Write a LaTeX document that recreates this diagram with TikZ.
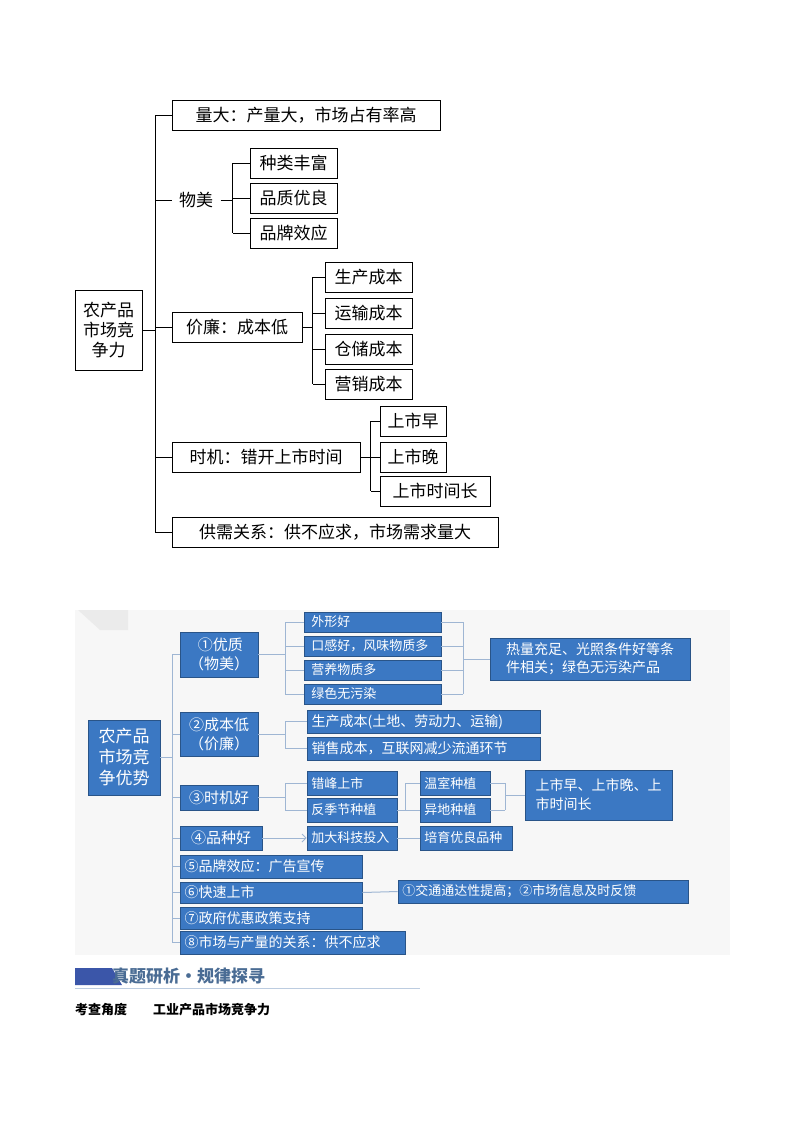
\documentclass[tikz,border=0pt]{standalone}
\usepackage{fontspec}
\setmainfont{Noto Sans CJK SC}
\usetikzlibrary{arrows.meta}
\definecolor{bb}{HTML}{3B78C3}
\definecolor{bl}{HTML}{9FB6D3}
\definecolor{hd}{HTML}{4A6C94}
\newcommand{\bx}[7]{\node[#7, minimum width={#4-#2}, minimum height={#5-#3}] (#1) at ({(#2+#4)/2},{(#3+#5)/2}) {#6};}
\tikzset{
 tb/.style={draw=black, line width=1pt, inner sep=0pt, align=center, font=\fontsize{17}{20}\selectfont},
 bt/.style={fill=bb, draw=bb!70!black, line width=0.6pt, text=white, inner sep=0pt, align=left, font=\fontsize{13}{16}\selectfont},
 tl/.style={line width=1pt, black},
 bln/.style={line width=1pt, bl},
}
\begin{document}
\begin{tikzpicture}[x=1pt,y=-1pt]
\useasboundingbox[fill=white] (0,0) rectangle (800,1132);
% ---------- top diagram ----------
\bx{r}{75}{290}{142}{370}{农产品\\市场竞\\争力}{tb}
\bx{a}{172}{100}{440}{130}{量大：产量大，市场占有率高}{tb}
\bx{b}{172}{185}{220}{215}{物美}{tb, draw=none}
\bx{c}{172}{312}{302}{342}{价廉：成本低}{tb}
\bx{d}{172}{442}{360}{472}{时机：错开上市时间}{tb}
\bx{e}{172}{517}{498}{547}{供需关系：供不应求，市场需求量大}{tb}
\bx{b1}{250}{148}{337}{178}{种类丰富}{tb}
\bx{b2}{250}{183}{337}{213}{品质优良}{tb}
\bx{b3}{250}{218}{337}{248}{品牌效应}{tb}
\bx{c1}{325}{262}{412}{292}{生产成本}{tb}
\bx{c2}{325}{298}{412}{328}{运输成本}{tb}
\bx{c3}{325}{334}{412}{364}{仓储成本}{tb}
\bx{c4}{325}{369}{412}{399}{营销成本}{tb}
\bx{d1}{380}{406}{446}{436}{上市早}{tb}
\bx{d2}{380}{442}{446}{472}{上市晚}{tb}
\bx{d3}{380}{476}{490}{506}{上市时间长}{tb}
\coordinate (tt) at (155,115);
\coordinate (tb) at (155,532);
\draw[tl] (tt) -- (tb);
\draw[tl] (r.east) -- (r.east -| tt);
\foreach \n in {a,b,c,d,e} \draw[tl] (\n.west) -- (\n.west -| tt);
\draw[tl] (b.east) -- ++(12,0) coordinate (bj);
\draw[tl] (bj |- b1.west) -- (bj |- b3.west);
\foreach \n in {b1,b2,b3} \draw[tl] (\n.west) -- (\n.west -| bj);
\draw[tl] (c.east) -- ++(10,0) coordinate (cj);
\draw[tl] (cj |- c1.west) -- (cj |- c4.west);
\foreach \n in {c1,c2,c3,c4} \draw[tl] (\n.west) -- (\n.west -| cj);
\draw[tl] (d.east) -- ++(10,0) coordinate (dj);
\draw[tl] (dj |- d1.west) -- (dj |- d3.west);
\foreach \n in {d1,d2,d3} \draw[tl] (\n.west) -- (\n.west -| dj);
% ---------- bottom diagram ----------
\fill[black!3] (75,610) rectangle (730,955);
\fill[black!8] (78,610) -- (128,610) -- (128,630) -- (100,630) -- cycle;
\bx{R}{88}{720}{160}{795}{农产品\\市场竞\\争优势}{bt, font=\fontsize{17}{21}\selectfont}
\bx{A}{180}{632}{258}{677}{\,①优质\\（物美）}{bt, align=center, font=\fontsize{15}{19}\selectfont}
\bx{A1}{307}{612}{438}{632}{\ 外形好}{bt, text width=131, inner sep=3pt, minimum height=0pt}
\bx{A2}{307}{636}{438}{656}{\ 口感好，风味物质多}{bt, text width=131, inner sep=3pt, minimum height=0pt}
\bx{A3}{307}{660}{438}{680}{\ 营养物质多}{bt, text width=131, inner sep=3pt, minimum height=0pt}
\bx{A4}{307}{684}{438}{704}{\ 绿色无污染}{bt, text width=131, inner sep=3pt, minimum height=0pt}
\bx{AR}{490}{638}{690}{680}{热量充足、光照条件好等条\\件相关；绿色无污染产品}{bt, align=left, font=\fontsize{14}{18}\selectfont}
\bx{B}{180}{712}{258}{756}{②成本低\\（价廉）}{bt, align=center, font=\fontsize{15}{19}\selectfont}
\bx{B1}{307}{710}{540}{733}{\ 生产成本(土地、劳动力、运输)}{bt, text width=233, inner sep=0pt, font=\fontsize{14}{17}\selectfont}
\bx{B2}{307}{737}{540}{760}{\ 销售成本，互联网减少流通环节}{bt, text width=233, inner sep=0pt, font=\fontsize{14}{17}\selectfont}
\bx{C}{180}{785}{258}{810}{③时机好}{bt, align=center, font=\fontsize{15}{19}\selectfont}
\bx{C1}{307}{771}{397}{795}{\ 错峰上市}{bt, text width=90}
\bx{C2}{307}{798}{397}{822}{\ 反季节种植}{bt, text width=90}
\bx{C3}{420}{771}{490}{795}{\ 温室种植}{bt, text width=70}
\bx{C4}{420}{798}{490}{822}{\ 异地种植}{bt, text width=70}
\bx{CR}{525}{770}{672}{820}{上市早、上市晚、上\\市时间长}{bt, align=left, font=\fontsize{14}{19}\selectfont}
\bx{D}{180}{826}{262}{850}{④品种好}{bt, align=center, font=\fontsize{15}{19}\selectfont}
\bx{D1}{307}{826}{397}{850}{\ 加大科技投入}{bt, text width=90}
\bx{D2}{420}{826}{512}{850}{\ 培育优良品种}{bt, text width=92}
\bx{E}{180}{855}{362}{878}{\ ⑤品牌效应：广告宣传}{bt, text width=182, font=\fontsize{14}{17}\selectfont}
\bx{F}{180}{882}{362}{903}{\ ⑥快速上市}{bt, text width=182, font=\fontsize{14}{17}\selectfont}
\bx{F1}{398}{880}{688}{903}{\ ①交通通达性提高；②市场信息及时反馈}{bt, text width=290}
\bx{G}{180}{907}{362}{929}{\ ⑦政府优惠政策支持}{bt, text width=182, font=\fontsize{14}{17}\selectfont}
\bx{H}{180}{931}{405}{954}{\ ⑧市场与产量的关系：供不应求}{bt, text width=225, font=\fontsize{14}{17}\selectfont}
\coordinate (Tt) at (172,655);
\coordinate (Tb) at (172,942);
\draw[bln] (Tt) -- (Tb);
\draw[bln] (R.east) -- (R.east -| Tt);
\foreach \n in {A,B,C,D,E,F,G,H} \draw[bln] (\n.west) -- (\n.west -| Tt);
\coordinate (aj) at (285,622);
\draw[bln] (A.east) -- (A.east -| aj);
\draw[bln] (aj |- A1.west) -- (aj |- A4.west);
\foreach \n in {A1,A2,A3,A4} \draw[bln] (\n.west) -- (\n.west -| aj);
\coordinate (ak) at (463,622);
\draw[bln] (ak |- A1.east) -- (ak |- A4.east);
\foreach \n in {A1,A2,A3,A4} \draw[bln] (\n.east) -- (\n.east -| ak);
\draw[bln] (AR.west) -- (AR.west -| ak);
\draw[bln] (B.east) -- (B.east -| aj);
\draw[bln] (aj |- B1.west) -- (aj |- B2.west);
\foreach \n in {B1,B2} \draw[bln] (\n.west) -- (\n.west -| aj);
\draw[bln] (C.east) -- (C.east -| aj);
\draw[bln] (aj |- C1.west) -- (aj |- C2.west);
\foreach \n in {C1,C2} \draw[bln] (\n.west) -- (\n.west -| aj);
\coordinate (cj2) at (405,800);
\draw[bln] (C2.east) -- (C2.east -| cj2);
\draw[bln] (cj2 |- C3.west) -- (cj2 |- C4.west);
\foreach \n in {C3,C4} \draw[bln] (\n.west) -- (\n.west -| cj2);
\coordinate (ck) at (505,800);
\draw[bln] (ck |- C3.east) -- (ck |- C4.east);
\foreach \n in {C3,C4} \draw[bln] (\n.east) -- (\n.east -| ck);
\draw[bln] (CR.west) -- (CR.west -| ck);
\draw[bln, -{Straight Barb[length=4pt]}] (D.east) -- (D1.west);
\draw[bln] (D1.east) -- (D2.west);
\draw[bln] (F.east) -- (F1.west);
% heading
\fill[hd!80!blue] (75,968) -- (112,968) -- (122,985) -- (75,985) -- cycle;
\draw[bl!70, line width=1pt] (75,988) -- (420,988);
\node[anchor=west, text=hd, font=\fontsize{17}{20}\selectfont\bfseries, inner sep=0pt] (ht) at (112,976) {真题研析·规律探寻};
\node[anchor=west, font=\fontsize{13}{16}\selectfont\bfseries, inner sep=0pt] (kc) at (75,1010) {考查角度\hspace{2em}工业产品市场竞争力};
\end{tikzpicture}
\end{document}
